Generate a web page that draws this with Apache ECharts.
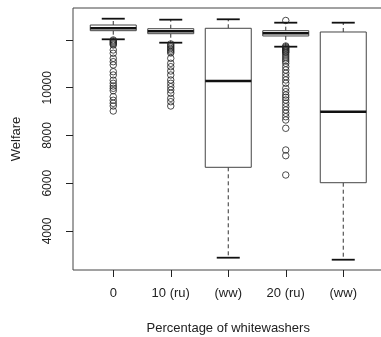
<!DOCTYPE html>
<html>
<head>
<meta charset="utf-8">
<script src="https://cdn.jsdelivr.net/npm/echarts@6/dist/echarts.min.js"></script>
<style>
html,body{margin:0;padding:0;background:#fff;}
#chart{width:381px;height:337px;}
</style>
</head>
<body>
<div id="chart"></div>
<script>
// ---- data ----
var categories = ['0', '10 (ru)', '(ww)', '20 (ru)', '(ww)'];
var lowerWhisker = [12029, 11887, 2882, 11720, 2798];
var q1 = [12390, 12264, 6668, 12168, 6023];
var median = [12490, 12364, 10283, 12280, 8997];
var q3 = [12628, 12473, 12490, 12390, 12335];
var upperWhisker = [12892, 12851, 12867, 12725, 12725];

var outliers0 = [12000, 11958, 11916, 11874, 11833, 11791, 11581, 11443, 11233, 11091, 10955,
  10672, 10534, 10313, 10186, 10073, 9977, 9876, 9625, 9475, 9349, 9236, 9026];
var outliers1 = [11833, 11770, 11707, 11644, 11581, 11518, 11456, 11233, 11024, 10882, 10702,
  10534, 10325, 10186, 10044, 9906, 9768, 9558, 9416, 9236];
var outliers2 = [];
var outliers3 = [12817, 11749, 11707, 11665, 11623, 11581, 11539, 11498, 11456, 11372, 11288,
  11204, 11121, 11024, 10882, 10744, 10605, 10463, 10325, 10186, 9977, 9834, 9696, 9600, 9487,
  9349, 9206, 9068, 8930, 8787, 8649, 8302, 7393, 7154, 6346];
var outliers4 = [];

var yTicks = [4000, 6000, 8000, 10000, 12000];
var yLabels = [4000, 6000, 8000, 10000];

// ---- build ----
var boxData = categories.map(function (c, i) {
  return [i + 1, lowerWhisker[i], q1[i], median[i], q3[i], upperWhisker[i]];
});
var allOut = [outliers0, outliers1, outliers2, outliers3, outliers4];
var outData = [];
allOut.forEach(function (arr, i) {
  arr.forEach(function (v) { outData.push([i + 1, v]); });
});
var catPos = categories.map(function (c, i) { return i + 1; });

var FONT = '"Liberation Sans", Arial, Helvetica, sans-serif';
var INK = '#222';

function renderBox(params, api) {
  var x = api.value(0);
  var pLow = api.coord([x, api.value(1)]);
  var pQ1 = api.coord([x, api.value(2)]);
  var pMed = api.coord([x, api.value(3)]);
  var pQ3 = api.coord([x, api.value(4)]);
  var pUp = api.coord([x, api.value(5)]);
  var w = api.size([0.8, 0])[0];
  var sw = w / 2;
  var cx = pMed[0];
  return {
    type: 'group',
    children: [
      { type: 'line', shape: { x1: cx, y1: pQ3[1], x2: cx, y2: pUp[1] },
        style: { stroke: '#333', lineWidth: 1, lineDash: [4, 3] } },
      { type: 'line', shape: { x1: cx, y1: pQ1[1], x2: cx, y2: pLow[1] },
        style: { stroke: '#333', lineWidth: 1, lineDash: [4, 3] } },
      { type: 'line', shape: { x1: cx - sw / 2, y1: pUp[1], x2: cx + sw / 2, y2: pUp[1] },
        style: { stroke: '#111', lineWidth: 1.8 } },
      { type: 'line', shape: { x1: cx - sw / 2, y1: pLow[1], x2: cx + sw / 2, y2: pLow[1] },
        style: { stroke: '#111', lineWidth: 1.8 } },
      { type: 'rect', shape: { x: cx - w / 2, y: pQ3[1], width: w, height: pQ1[1] - pQ3[1] },
        style: { fill: '#fff', stroke: '#444', lineWidth: 1 } },
      { type: 'line', shape: { x1: cx - w / 2, y1: pMed[1], x2: cx + w / 2, y2: pMed[1] },
        style: { stroke: '#111', lineWidth: 2.4 } }
    ]
  };
}

var chart = echarts.init(document.getElementById('chart'), null, { renderer: 'canvas' });
chart.setOption({
  animation: false,
  backgroundColor: '#fff',
  textStyle: { fontFamily: FONT },
  grid: {
    left: 73, top: 8, width: 310.5, height: 262,
    outerBoundsMode: 'none', containLabel: false,
    show: true, borderColor: '#444', borderWidth: 1, backgroundColor: 'transparent'
  },
  xAxis: {
    type: 'value', min: 0.3, max: 5.7,
    name: 'Percentage of whitewashers', nameLocation: 'middle', nameGap: 52,
    nameTextStyle: { fontSize: 13, color: INK, fontFamily: FONT },
    axisLine: { show: false },
    axisTick: { show: true, customValues: catPos, length: 7, lineStyle: { color: INK } },
    axisLabel: {
      customValues: catPos, margin: 17, fontSize: 13, color: INK, fontFamily: FONT,
      formatter: function (v) { return categories[Math.round(v) - 1]; }
    },
    splitLine: { show: false }
  },
  yAxis: {
    type: 'value', min: 2367, max: 13340,
    name: 'Welfare', nameLocation: 'middle', nameGap: 50, nameRotate: 90,
    nameTextStyle: { fontSize: 13, color: INK, fontFamily: FONT },
    axisLine: { show: false },
    axisTick: { show: true, customValues: yTicks, length: 7, lineStyle: { color: INK } },
    axisLabel: {
      customValues: yLabels, rotate: 90, margin: 19, fontSize: 12, color: INK, fontFamily: FONT,
      formatter: function (v) { return String(v); }
    },
    splitLine: { show: false }
  },
  series: [
    {
      type: 'custom', renderItem: renderBox, data: boxData,
      encode: { x: 0, y: [1, 2, 3, 4, 5] }, z: 2
    },
    {
      type: 'scatter', data: outData, symbol: 'circle', symbolSize: 6.5, z: 3,
      itemStyle: { color: 'rgba(0,0,0,0)', borderColor: '#222', borderWidth: 1 }
    }
  ]
});
</script>
</body>
</html>
